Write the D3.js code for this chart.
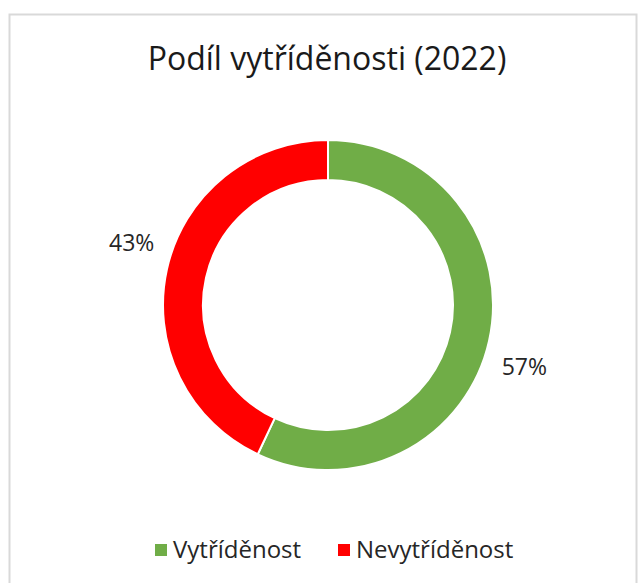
<!DOCTYPE html>
<html>
<head>
<meta charset="utf-8">
<script src="https://cdn.jsdelivr.net/npm/d3@7"></script>
<style>
  html, body { margin: 0; padding: 0; background: #ffffff; }
  svg { display: block; }
</style>
</head>
<body>
<div id="chart"></div>
<script>
const chartTitle = "Podíl vytříděnosti (2022)";
const categories = ["Vytříděnost", "Nevytříděnost"];
const values = [57, 43];
const labels = ["57%", "43%"];
const colors = ["#70AD47", "#FF0000"];

const W = 639, H = 583;
const FONT = "'Open Sans', Lato, sans-serif";

const svg = d3.select("#chart").append("svg")
  .attr("width", W).attr("height", H);

svg.append("rect").attr("width", W).attr("height", H).attr("fill", "#ffffff");

// chart border
svg.append("rect")
  .attr("x", 9.5).attr("y", 14.5)
  .attr("width", 627).attr("height", 600)
  .attr("fill", "#ffffff")
  .attr("stroke", "#d9d9d9").attr("stroke-width", 2);

svg.append("text")
  .attr("x", 327).attr("y", 70)
  .attr("text-anchor", "middle")
  .attr("font-family", FONT)
  .attr("font-size", 32)
  .attr("fill", "#1a1a1a")
  .text(chartTitle);

const cx = 328, cy = 305, rOuter = 165, rInner = 125;

const pie = d3.pie().sort(null).value(d => d)(values);
const arc = d3.arc().innerRadius(rInner).outerRadius(rOuter);

const g = svg.append("g").attr("transform", `translate(${cx},${cy})`);
g.selectAll("path").data(pie).enter().append("path")
  .attr("d", arc)
  .attr("fill", (d, i) => colors[i])
  .attr("stroke", "#ffffff")
  .attr("stroke-width", 2);

// data labels placed outside the ring (slightly rotated clockwise, like Excel's best fit)
const labelR = 206, labelShift = 5 * Math.PI / 180;
g.selectAll("text.lbl").data(pie).enter().append("text")
  .attr("class", "lbl")
  .attr("transform", d => {
    const a = (d.startAngle + d.endAngle) / 2 + labelShift;
    return `translate(${labelR * Math.sin(a)},${-labelR * Math.cos(a)})`;
  })
  .attr("text-anchor", "middle")
  .attr("dy", "0.35em")
  .attr("font-family", FONT)
  .attr("font-size", 23)
  .attr("fill", "#262626")
  .text((d, i) => labels[i]);

// legend
const legendX = [155, 338];
const lg = svg.append("g");
categories.forEach((c, i) => {
  lg.append("rect")
    .attr("x", legendX[i]).attr("y", 544)
    .attr("width", 12).attr("height", 12)
    .attr("fill", colors[i]);
  lg.append("text")
    .attr("x", legendX[i] + 18).attr("y", 558)
    .attr("font-family", FONT)
    .attr("font-size", 24)
    .attr("fill", "#262626")
    .text(c);
});
</script>
</body>
</html>
